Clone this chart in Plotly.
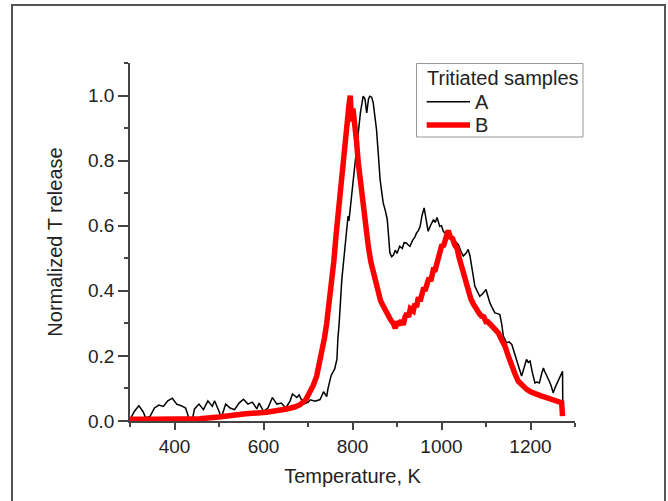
import plotly.graph_objects as go

# Sample A (black)
a_temp = [300, 310, 320, 330, 335, 345, 355, 365, 375, 385, 395, 405, 415, 425, 432, 440,
          445, 455, 465, 475, 485, 490, 500, 505, 515, 525, 535, 545, 555, 565, 575, 585,
          590, 600, 610, 620, 630, 640, 650, 660, 665, 675, 680, 690, 700, 705, 716, 727,
          735, 742, 745, 752, 760, 765, 767, 770, 776, 782, 787, 790, 792, 797, 802, 808,
          813, 818, 824, 828, 832, 836, 839, 843, 846.5, 850, 854, 858, 862, 866, 869, 874,
          878, 881, 884, 888, 892, 896, 900, 906, 912, 916, 921, 926, 929, 935, 940, 944,
          948, 952, 956, 961, 965, 970, 975, 982, 986, 990, 996, 1000, 1004, 1010, 1019, 1025,
          1030, 1038, 1044, 1049, 1055, 1060, 1064, 1070, 1075, 1080, 1086, 1092, 1100, 1104, 1109, 1115,
          1120, 1126, 1131, 1135, 1139, 1146, 1152, 1158, 1163, 1169, 1175, 1180, 1186, 1191, 1195, 1199,
          1204, 1210, 1215, 1220, 1225, 1229, 1232, 1236, 1242, 1246, 1251, 1256, 1262, 1268, 1272, 1272.5]
a_release = [0.004, 0.03, 0.047, 0.027, 0.01, 0.014, 0.04, 0.049, 0.045, 0.062, 0.07, 0.052, 0.047, 0.04, 0.01, 0.004,
             0.037, 0.052, 0.035, 0.062, 0.045, 0.062, 0.03, 0.01, 0.052, 0.04, 0.035, 0.055, 0.067, 0.052, 0.058, 0.037,
             0.055, 0.03, 0.04, 0.072, 0.052, 0.055, 0.04, 0.062, 0.083, 0.072, 0.08, 0.052, 0.057, 0.065, 0.061, 0.066,
             0.09, 0.075, 0.1, 0.14, 0.16, 0.19, 0.25, 0.3, 0.435, 0.52, 0.588, 0.63, 0.615, 0.68, 0.742, 0.82,
             0.895, 0.95, 0.998, 0.99, 0.947, 0.99, 0.998, 0.995, 0.978, 0.94, 0.895, 0.82, 0.742, 0.70, 0.67, 0.645,
             0.62, 0.57, 0.517, 0.505, 0.51, 0.525, 0.515, 0.537, 0.53, 0.548, 0.547, 0.54, 0.537, 0.555, 0.565, 0.578,
             0.585, 0.598, 0.63, 0.655, 0.62, 0.583, 0.6, 0.619, 0.61, 0.625, 0.598, 0.6, 0.583, 0.575, 0.568, 0.56,
             0.555, 0.542, 0.52, 0.507, 0.515, 0.527, 0.507, 0.46, 0.414, 0.40, 0.383, 0.39, 0.404, 0.385, 0.362, 0.345,
             0.332, 0.33, 0.327, 0.3, 0.261, 0.24, 0.243, 0.235, 0.215, 0.189, 0.16, 0.138, 0.17, 0.189, 0.18, 0.184,
             0.15, 0.117, 0.12, 0.117, 0.145, 0.163, 0.152, 0.138, 0.123, 0.11, 0.087, 0.105, 0.123, 0.14, 0.153, 0.056]

# Sample B (red)
b_temp = [300, 320, 350, 400, 457, 500, 532, 560, 607, 630, 652, 670, 682, 695, 704, 712,
          719.5, 725, 731, 737, 742, 748, 753, 758, 763, 768, 772, 778, 783, 788, 792, 795,
          798, 801, 805, 809, 813, 818, 824, 830, 835.5, 841, 846.7, 852, 858, 863, 869, 875,
          880.5, 886, 891.7, 896, 900, 906, 910, 914, 918, 922, 926, 930, 936.6, 940, 944, 948,
          952, 956, 959, 964, 968, 972, 976, 981.6, 986, 990, 995, 1000, 1005, 1010, 1015, 1020,
          1025, 1030, 1035, 1040, 1045, 1050, 1056.6, 1062, 1066, 1071.5, 1076, 1080, 1085, 1090, 1095, 1100,
          1104, 1109, 1115, 1120, 1127.6, 1135, 1142.7, 1150, 1157.8, 1165, 1172.6, 1180, 1186, 1191.5, 1200, 1207,
          1214, 1222, 1229, 1236, 1244, 1251, 1259, 1265, 1270, 1272]
b_release = [0.005, 0.004, 0.005, 0.006, 0.007, 0.012, 0.018, 0.022, 0.027, 0.03, 0.037, 0.043, 0.05, 0.065, 0.087, 0.11,
             0.138, 0.17, 0.21, 0.255, 0.30, 0.36, 0.42, 0.49, 0.57, 0.645, 0.711, 0.78, 0.855, 0.92, 0.97, 1.0,
             0.92, 0.96, 0.92, 0.86, 0.793, 0.73, 0.66, 0.6, 0.537, 0.49, 0.455, 0.42, 0.394, 0.37, 0.353, 0.335,
             0.327, 0.31, 0.3, 0.285, 0.305, 0.295, 0.31, 0.295, 0.32, 0.33, 0.32, 0.345, 0.338, 0.36, 0.35, 0.38,
             0.368, 0.39, 0.404, 0.405, 0.42, 0.44, 0.43, 0.465, 0.465, 0.49, 0.505, 0.537, 0.54, 0.57, 0.585, 0.565,
             0.56, 0.54, 0.53, 0.5, 0.476, 0.45, 0.414, 0.39, 0.375, 0.36, 0.35, 0.335, 0.33, 0.322, 0.32, 0.305,
             0.305, 0.298, 0.29, 0.278, 0.271, 0.25, 0.23, 0.2, 0.168, 0.145, 0.122, 0.11, 0.1, 0.097, 0.09, 0.085,
             0.081, 0.078, 0.075, 0.071, 0.068, 0.065, 0.061, 0.058, 0.056, 0.015]

legend_title = "Tritiated samples"
series_names = ["A", "B"]
series_colors = ["black", "#ff0000"]
series_widths = [1.5, 5.5]

FONT = "Liberation Sans, Arial, sans-serif"
TXT = "#222"

fig = go.Figure()
fig.add_trace(go.Scatter(x=a_temp, y=a_release, mode="lines", name=series_names[0],
                         line=dict(color=series_colors[0], width=series_widths[0]), showlegend=False))
fig.add_trace(go.Scatter(x=b_temp, y=b_release, mode="lines", name=series_names[1],
                         line=dict(color=series_colors[1], width=series_widths[1]), showlegend=False))

L, R, T, B = 130, 93, 63, 80
W, H = 668, 501
pw, ph = W - L - R, H - T - B

def px_x(px):
    return (px - L) / pw

def px_y(py):
    return (H - B - py) / ph

axis_common = dict(showline=True, linecolor="#444", linewidth=1.5, ticks="outside",
                   tickwidth=1.5, tickcolor="#444", showgrid=False, zeroline=False,
                   tickfont=dict(family=FONT, size=19, color=TXT), mirror=False)

fig.update_xaxes(range=[300, 1300], tickvals=[400, 600, 800, 1000, 1200], ticklen=7,
                 minor=dict(tickvals=[300, 500, 700, 900, 1100, 1300], ticklen=4, tickwidth=1.5,
                            tickcolor="#444", ticks="outside"),
                 title=dict(text="Temperature, K", font=dict(family=FONT, size=20, color=TXT), standoff=13),
                 **axis_common)
fig.update_yaxes(range=[0, 1.1], tickvals=[0, 0.2, 0.4, 0.6, 0.8, 1.0], tickformat=".1f", ticklen=10,
                 minor=dict(tickvals=[0.1, 0.3, 0.5, 0.7, 0.9, 1.1], ticklen=4, tickwidth=1.5,
                            tickcolor="#444", ticks="outside"),
                 title=dict(text="Normalized T release", font=dict(family=FONT, size=20, color=TXT), standoff=20),
                 **axis_common)

shapes = [
    # outer frame
    dict(type="rect", xref="paper", yref="paper",
         x0=px_x(12), x1=px_x(665), y0=px_y(520), y1=px_y(5),
         line=dict(color="#555", width=2), fillcolor="rgba(0,0,0,0)", layer="above"),
    # legend box
    dict(type="rect", xref="paper", yref="paper",
         x0=px_x(416.5), x1=px_x(583), y0=px_y(137), y1=px_y(63.5),
         line=dict(color="#999", width=1), fillcolor="white", layer="above"),
]
annotations = [dict(text=legend_title, xref="paper", yref="paper", x=px_x(425), y=px_y(77.5),
                    xanchor="left", yanchor="middle", showarrow=False,
                    font=dict(family=FONT, size=20, color=TXT))]
for i, (nm, col, wd) in enumerate(zip(series_names, series_colors, series_widths)):
    yy = 101.7 + i * 23.3
    shapes.append(dict(type="line", xref="paper", yref="paper",
                       x0=px_x(426.7), x1=px_x(470), y0=px_y(yy), y1=px_y(yy),
                       line=dict(color=col, width=wd), layer="above"))
    annotations.append(dict(text=nm, xref="paper", yref="paper", x=px_x(472.5), y=px_y(yy),
                            xanchor="left", yanchor="middle", showarrow=False,
                            font=dict(family=FONT, size=20, color=TXT)))

fig.update_layout(
    width=W, height=H,
    margin=dict(l=L, r=R, t=T, b=B, autoexpand=False),
    plot_bgcolor="white", paper_bgcolor="white",
    showlegend=False,
    shapes=shapes, annotations=annotations,
)

fig.write_html("out.html")
